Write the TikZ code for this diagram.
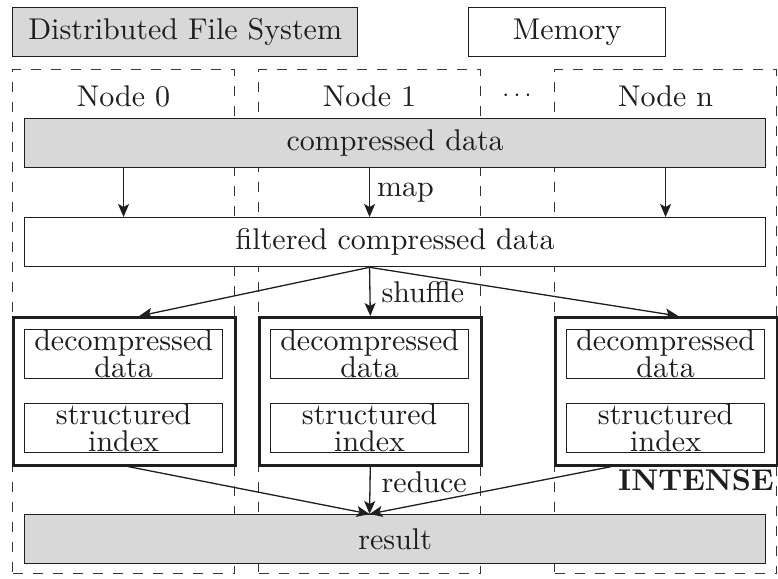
\documentclass[tikz,border=0pt]{standalone}
\usepackage{fontspec}
\setmainfont{lmroman10-regular.otf}[BoldFont=lmroman10-bold.otf]
\usetikzlibrary{arrows.meta,calc}
\definecolor{boxgray}{RGB}{216,216,216}
\definecolor{ink}{RGB}{30,30,30}
\tikzset{
  txt/.style={font=\fontsize{30}{27}\selectfont, text=ink},
  plain/.style={txt, draw=ink, line width=1.3pt, inner sep=0pt, anchor=north west, align=center},
  grayfill/.style={plain, fill=boxgray},
  column/.style={draw=ink!90, line width=1.1pt, dash pattern=on 10pt off 10pt, inner sep=0pt, anchor=north west},
  worker/.style={draw=ink, line width=2.6pt, inner sep=0pt, anchor=north west, minimum width=222, minimum height=148},
  flow/.style={draw=ink, line width=1.3pt, -{Stealth[length=13pt,width=11pt,inset=3pt]}},
  tag/.style={txt, inner sep=0pt},
}
\begin{document}
\begin{tikzpicture}[x=1pt,y=-1pt]
  \useasboundingbox (0,0) rectangle (778,578);

  % legend
  \node[grayfill, minimum width=345, minimum height=49] (dfs) at (12,7) {Distributed File System};
  \node[plain, minimum width=197, minimum height=49] (mem) at (468,7) {Memory};

  % cluster columns
  \node[column, minimum width=222, minimum height=504] (c0) at (12,69) {};
  \node[column, minimum width=222, minimum height=504] (c1) at (258,69) {};
  \node[column, minimum width=222, minimum height=504] (cn) at (554,69) {};

  \node[tag] (n0) at (c0.center |- 0,96) {Node 0};
  \node[tag] (n1) at (c1.center |- 0,96) {Node 1};
  \node[tag] (ndots) at (517,96) {$\cdots$};
  \node[tag] (nn) at (cn.center |- 0,96) {Node n};

  % data stages
  \node[grayfill, minimum width=741, minimum height=49] (comp) at (24,118) {compressed data};
  \node[plain, fill=white, minimum width=741, minimum height=49] (filt) at (24,217) {filtered compressed data};

  % reducers with in-memory contents
  \foreach \nm/\x in {w0/12, w1/258, wn/554} {
    \node[worker] (\nm) at (\x,316) {};
    \node[plain, fill=white, minimum width=198, minimum height=49] (\nm d) at (\x+12,329) {decompressed\\data};
    \node[plain, fill=white, minimum width=198, minimum height=49] (\nm s) at (\x+12,403) {structured\\index};
  }

  \node[grayfill, minimum width=741, minimum height=49] (res) at (24,514) {result};

  % map
  \draw[flow] (comp.south -| c0.center) -- (filt.north -| c0.center);
  \draw[flow] (comp.south -| c1.center) -- (filt.north -| c1.center)
    node[tag, midway, anchor=west, xshift=7pt] (map) {map};
  \draw[flow] (comp.south -| cn.center) -- (filt.north -| cn.center);

  % shuffle
  \coordinate (fs) at (filt.south -| c1.center);
  \draw[flow] (fs) -- ($(w0.north)+(15,0)$);
  \draw[flow] (fs) -- (w1.north)
    node[tag, midway, anchor=west, xshift=11pt] (shuf) {shuffle};
  \draw[flow] (fs) -- ($(wn.north)+(12,0)$);

  % reduce
  \coordinate (rt) at (res.north -| c1.center);
  \draw[flow] ($(w0.south)+(4,0)$) -- (rt);
  \draw[flow] (w1.south) -- (rt)
    node[tag, pos=0.32, anchor=west, xshift=11pt] (red) {reduce};
  \draw[flow] ($(wn.south)+(-55,0)$) -- (rt);

  \node[tag, font=\fontsize{30}{27}\selectfont\bfseries, anchor=east] (intense) at (774,480) {INTENSE};
\end{tikzpicture}
\end{document}
